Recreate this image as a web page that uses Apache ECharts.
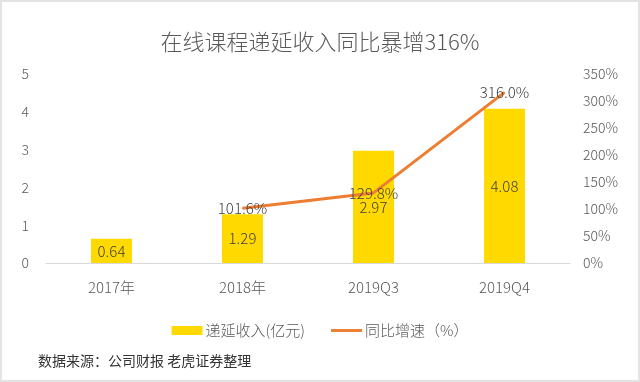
<!DOCTYPE html>
<html>
<head>
<meta charset="utf-8">
<style>
  html, body { margin: 0; padding: 0; background: #fff; }
  #chart { width: 640px; height: 382px; }
</style>
<script src="https://cdn.jsdelivr.net/npm/echarts@6/dist/echarts.min.js"></script>
</head>
<body>
<div id="chart"></div>
<script>
// 数据
var categories = ['2017年', '2018年', '2019Q3', '2019Q4'];
var deferredRevenue = [0.64, 1.29, 2.97, 4.08];   // 递延收入(亿元)
var yoyGrowth = [null, 101.6, 129.8, 316.0];        // 同比增速（%）

var chart = echarts.init(document.getElementById('chart'));
var textColor = '#595959';
var font = '"Noto Sans CJK SC", "Noto Sans", sans-serif';

var option = {
    backgroundColor: '#fff',
    textStyle: { fontFamily: font },
    title: {
        text: '在线课程递延收入同比暴增316%',
        left: 'center',
        top: 26,
        textStyle: { fontSize: 22, fontWeight: 300, color: textColor, fontFamily: font }
    },
    legend: {
        top: 318,
        left: 'center',
        itemGap: 26,
        itemWidth: 31,
        itemHeight: 9,
        textStyle: { fontSize: 15, fontWeight: 300, color: textColor, padding: [0, 0, 0, -2] },
        data: [
            { name: '递延收入(亿元)', icon: 'rect' },
            { name: '同比增速（%）', icon: 'path://M0,0h32v3h-32z' }
        ]
    },
    graphic: [
        {
            type: 'rect',
            shape: { x: 1, y: 1, width: 638, height: 380 },
            style: { fill: 'none', stroke: '#e3e3e3', lineWidth: 2 },
            silent: true
        },
        {
            type: 'text',
            left: 38,
            top: 354,
            style: { text: '数据来源：公司财报 老虎证券整理', fontSize: 14, fill: '#333', fontFamily: font }
        }
    ],
    grid: {
        left: 46,
        right: 70,
        top: 74,
        bottom: 119
    },
    xAxis: [{
        type: 'category',
        data: categories,
        axisLine: { lineStyle: { color: '#d9d9d9', width: 1 } },
        axisTick: { show: false },
        axisLabel: { fontSize: 15, fontWeight: 300, color: textColor, margin: 17 }
    }],
    yAxis: [
        {
            type: 'value',
            min: 0,
            max: 5,
            interval: 1,
            splitLine: { show: false },
            axisLine: { show: false },
            axisTick: { show: false },
            axisLabel: { fontSize: 14, fontWeight: 300, color: textColor, margin: 17 }
        },
        {
            type: 'value',
            min: 0,
            max: 350,
            interval: 50,
            splitLine: { show: false },
            axisLine: { show: false },
            axisTick: { show: false },
            axisLabel: { fontSize: 14, fontWeight: 300, color: textColor, margin: 13, formatter: '{value}%' }
        }
    ],
    series: [
        {
            name: '递延收入(亿元)',
            type: 'bar',
            data: deferredRevenue,
            barWidth: 41,
            itemStyle: { color: '#FFD900' },
            label: {
                show: true,
                position: 'inside',
                fontSize: 15,
                fontWeight: 300,
                color: '#404040',
                formatter: function (p) { return p.value.toFixed(2); }
            }
        },
        {
            name: '同比增速（%）',
            type: 'line',
            yAxisIndex: 1,
            data: yoyGrowth,
            symbol: 'circle',
            symbolSize: 1,
            showSymbol: true,
            lineStyle: { color: '#ED7D31', width: 3 },
            itemStyle: { color: '#ED7D31' },
            label: {
                show: true,
                position: 'top',
                distance: -8,
                fontSize: 15,
                fontWeight: 300,
                color: '#404040',
                formatter: function (p) { return p.value == null ? '' : p.value.toFixed(1) + '%'; }
            }
        }
    ]
};
chart.setOption(option);
</script>
</body>
</html>
